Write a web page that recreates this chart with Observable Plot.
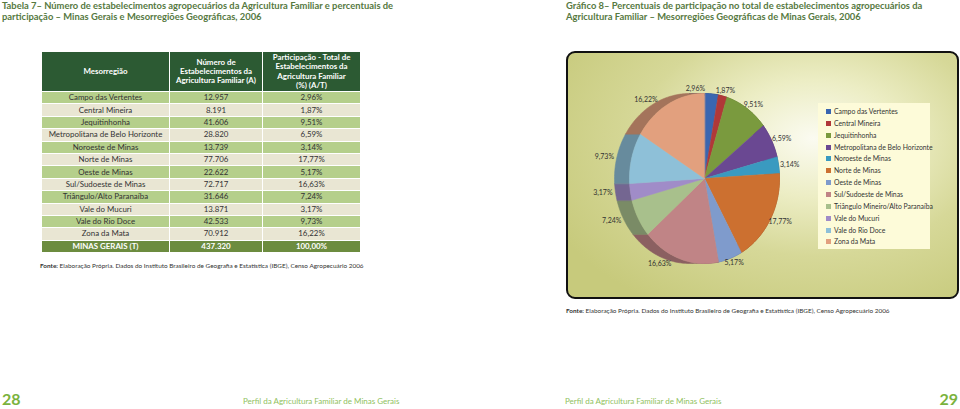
<!DOCTYPE html>
<html><head><meta charset="utf-8">
<script src="https://cdn.jsdelivr.net/npm/d3@7"></script>
<script src="https://cdn.jsdelivr.net/npm/@observablehq/plot@0.6"></script>
<style>
body{margin:0;width:960px;height:409px;position:relative;overflow:hidden;background:#fff;font-family:Lato,"Open Sans",sans-serif;color:#333;}
.abs{position:absolute;white-space:nowrap;}
.title{color:#56793f;font-weight:700;font-size:9.4px;line-height:11px;}
table{border-collapse:collapse;table-layout:fixed;}
td,th{padding:0;text-align:center;border:1px solid #fff;font-size:7.9px;}
th{background:#2c5a33;color:#fff;font-weight:700;line-height:9.2px;height:39px;padding:0 5px;}
td{height:11.4px;line-height:11px;}
tr.odd td{background:#b5cf8b;}
tr.even td{background:#e9e6d3;}
tr.tot td{background:#6c8c3f;color:#fff;font-weight:700;}
.fonte{font-size:6.4px;color:#333;}
.panel{left:566px;top:51px;width:389px;height:244px;border:2.5px solid #111;border-radius:9px;
 background:radial-gradient(ellipse 75% 80% at 63% 35%, #fbfbf1 0%, #ecedc4 30%, #d6d898 60%, #c7ca7c 100%);}
.legend{left:818px;top:103px;width:112px;height:146px;background:#fdfbd9;}
.li{position:absolute;left:8px;font-size:6.85px;line-height:8px;color:#333;}
.li span{display:inline-block;width:5px;height:5px;margin-right:3px;vertical-align:0px;}
.pg{color:#7ab23d;font-weight:700;font-size:16px;}
.pt{color:#8fbf5e;font-size:8px;}
</style></head><body>
<script>
// ---- data ----
const regions = ["Campo das Vertentes","Central Mineira","Jequitinhonha","Metropolitana de Belo Horizonte","Noroeste de Minas","Norte de Minas","Oeste de Minas","Sul/Sudoeste de Minas","Triângulo/Alto Paranaíba","Vale do Mucuri","Vale do Rio Doce","Zona da Mata"];
const legendNames = ["Campo das Vertentes","Central Mineira","Jequitinhonha","Metropolitana de Belo Horizonte","Noroeste de Minas","Norte de Minas","Oeste de Minas","Sul/Sudoeste de Minas","Triângulo Mineiro/Alto Paranaíba","Vale do Mucuri","Vale do Rio Doce","Zona da Mata"];
const counts = [12957, 8191, 41606, 28820, 13739, 77706, 22622, 72717, 31646, 13871, 42533, 70912];
const shares = [2.96, 1.87, 9.51, 6.59, 3.14, 17.77, 5.17, 16.63, 7.24, 3.17, 9.73, 16.22];
const totalName = "MINAS GERAIS (T)";
const totalCount = 437320;
const totalShare = 100;
const headers = ["Mesorregião","Número de<br>Estabelecimentos da<br>Agricultura Familiar (A)","Participação - Total de<br>Estabelecimentos da<br>Agricultura Familiar<br>(%) (A/T)"];
const sliceColors = ["#3a66b0","#b03838","#7a9a3e","#6a4892","#3a9ac0","#cc7030","#7f9bcc","#c08486","#a8c08c","#a08cc8","#8ec0d8","#e2a07e"];
const titleLeft = ["Tabela 7– Número de estabelecimentos agropecuários da Agricultura Familiar e percentuais de","participação – Minas Gerais e Mesorregiões Geográficas, 2006"];
const titleRight = ["Gráfico 8– Percentuais de participação no total de estabelecimentos agropecuários da","Agricultura Familiar – Mesorregiões Geográficas de Minas Gerais, 2006"];
const fonteText = "Elaboração Própria. Dados do Instituto Brasileiro de Geografia e Estatística (IBGE), Censo Agropecuário 2006";
const footerText = "Perfil da Agricultura Familiar de Minas Gerais";

// ---- helpers ----
const fmtInt = n => String(n).replace(/\B(?=(\d{3})+(?!\d))/g, ".");
const fmtPct = v => v.toFixed(2).replace(".", ",") + "%";
function el(tag, cls, style, html){const e=document.createElement(tag); if(cls) e.className=cls; if(style) e.setAttribute("style",style); if(html!=null) e.innerHTML=html; document.body.appendChild(e); return e;}

// titles
el("div","abs title","left:2px;top:0px;", titleLeft.join("<br>"));
el("div","abs title","left:566px;top:0px;", titleRight.join("<br>"));

// table
let h = '<table style="width:319px"><colgroup><col style="width:128px"><col style="width:93px"><col style="width:98px"></colgroup>';
h += '<tr>' + headers.map(t=>`<th>${t}</th>`).join("") + '</tr>';
regions.forEach((r,i)=>{ h += `<tr class="${i%2===0?'odd':'even'}"><td>${r}</td><td>${fmtInt(counts[i])}</td><td>${fmtPct(shares[i])}</td></tr>`; });
h += `<tr class="tot"><td>${totalName}</td><td>${fmtInt(totalCount)}</td><td>${fmtPct(totalShare)}</td></tr></table>`;
el("div","abs","left:41px;top:51px;", h);

el("div","abs fonte","left:40px;top:262px;", "<b>Fonte:</b> " + fonteText);
el("div","abs fonte","left:566px;top:307px;", "<b>Fonte:</b> " + fonteText);

// panel + legend
el("div","abs panel");
const lg = el("div","abs legend");
legendNames.forEach((n,i)=>{const d=document.createElement("div"); d.className="li"; d.style.top=(4+i*11.85)+"px"; d.innerHTML=`<span style="background:${sliceColors[i]}"></span>${n}`; lg.appendChild(d);});

// ---- pie via Plot ----
const total = d3.sum(shares);
let acc = 0;
const slices = legendNames.map((n,i)=>{const a0=acc/total*2*Math.PI; acc+=shares[i]; const a1=acc/total*2*Math.PI; return {name:n,i,a0,a1,share:shares[i]};});
const RX = 75, RY = 85;
const depth = 15/RX;
const topPts = [], wallPts = [];
for (const s of slices) {
  const n = Math.max(2, Math.ceil((s.a1-s.a0)/(Math.PI/180)));
  const arc = d3.range(n+1).map(k => s.a0 + (s.a1-s.a0)*k/n);
  topPts.push({key:s.name, x:0, y:0});
  for (const a of arc) topPts.push({key:s.name, x:Math.sin(a), y:Math.cos(a)});
  const wk = s.name + " (lateral)";
  for (const a of arc) wallPts.push({key:wk, x:Math.sin(a), y:Math.cos(a)});
  for (const a of arc.slice().reverse()) wallPts.push({key:wk, x:Math.sin(a)-depth, y:Math.cos(a)});
}
const labels = slices.map(s=>{const m=(s.a0+s.a1)/2, sx=Math.sin(m), cy=Math.cos(m); return {text:fmtPct(s.share), x:1.15*sx-(sx<0?depth*1.1:0), y:1.06*cy};});
// simple collision avoidance between neighbouring labels
for (let i=0;i<labels.length-1;i++){
  const a=labels[i], b=labels[i+1];
  const dx=(b.x-a.x)*RX, dy=(b.y-a.y)*RY;
  if (Math.abs(dy)<9 && Math.abs(dx)<30){ a.x -= (30-Math.abs(dx))/RX; }
}
const keys = legendNames.concat(legendNames.map(n=>n+" (lateral)"));
const cols = sliceColors.concat(sliceColors.map(c=>d3.color(c).darker(0.9).formatHex()));
const W = 394, H = 246, CX = 138, CY = 126;
const chart = Plot.plot({
  width: W, height: H, margin: 0,
  x: {domain: [-CX/RX, (W-CX)/RX], axis: null},
  y: {domain: [-(H-CY)/RY, CY/RY], axis: null},
  color: {domain: keys, range: cols},
  style: {background: "transparent", overflow: "visible"},
  marks: [
    Plot.line(wallPts, {x:"x", y:"y", z:"key", fill:"key", stroke:"key", strokeWidth:0.6, curve:"linear-closed"}),
    Plot.line(topPts, {x:"x", y:"y", z:"key", fill:"key", stroke:"key", strokeWidth:0.6, curve:"linear-closed"}),
    Plot.text(labels, {x:"x", y:"y", text:"text", fontSize:7, fill:"#333", fontFamily:"Lato, sans-serif"})
  ]
});
const holder = el("div","abs","left:566px;top:52px;width:394px;height:246px;");
holder.appendChild(chart);

// footer
el("div","abs pg","left:2px;top:389px;","28");
el("div","abs pt","left:243px;top:396px;",footerText);
el("div","abs pt","left:565px;top:396px;",footerText);
el("div","abs pg","right:2px;top:389px;","29");
</script>
</body></html>
